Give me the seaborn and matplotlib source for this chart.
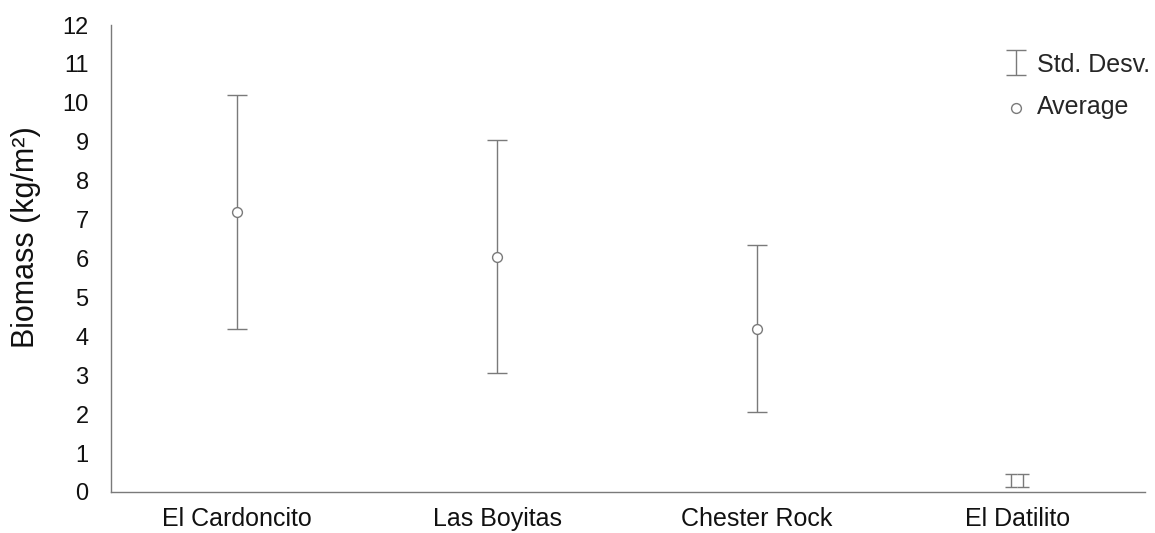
import numpy as np
import pandas as pd
import matplotlib
matplotlib.use("Agg")
import matplotlib.pyplot as plt
import seaborn as sns

# ---- dados ----
sites = ["El Cardoncito", "Las Boyitas", "Chester Rock", "El Datilito"]
media = [7.2, 6.05, 4.2, 0.3]
desvio = [3.0, 3.0, 2.15, 0.17]
y_ticks = list(range(0, 13))

sns.set_theme(style="white")
plt.rcParams['font.family'] = ['Liberation Sans', 'DejaVu Sans']

cinza = "#7a7a7a"

df = pd.DataFrame({"site": sites, "media": media, "desvio": desvio})
df["pos"] = np.arange(len(df))

fig = plt.figure(figsize=(11.55, 5.33), dpi=100)
ax = fig.add_axes([0.096, 0.077, 0.895, 0.876])

# barras de desvio padrao (tres primeiros locais)
principais = df.iloc[:3]
ax.errorbar(principais["pos"], principais["media"], yerr=principais["desvio"],
            fmt="none", ecolor=cinza, elinewidth=1.0, capsize=7, capthick=1.0,
            label="Std. Desv.")

# El Datilito aparece como "II" (duas barrinhas)
ult = df.iloc[3]
for dx in (-0.023, 0.023):
    ax.errorbar([ult["pos"] + dx], [ult["media"]], yerr=[ult["desvio"]],
                fmt="none", ecolor=cinza, elinewidth=1.0, capsize=4, capthick=1.0)

# medias
sns.scatterplot(data=principais, x="pos", y="media", ax=ax, marker="o", s=50,
                facecolor="white", edgecolor=cinza, linewidth=1.0, zorder=3,
                label="Average", legend=False)

ax.set_xlim(-0.485, 3.49)
ax.set_ylim(0, 12)
ax.set_xticks(df["pos"])
ax.set_xticklabels(sites, fontsize=18, color="#111111")
ax.set_yticks(y_ticks)
ax.set_yticklabels([str(t) for t in y_ticks], fontsize=17, color="#111111")
ax.tick_params(axis="x", length=0, pad=11)
ax.tick_params(axis="y", length=0, pad=16)
ax.set_xlabel("")
ax.set_ylabel("Biomass (kg/m²)", fontsize=22, color="#111111")
ax.yaxis.set_label_coords(-0.068, 0.546)

for lado in ["top", "right"]:
    ax.spines[lado].set_visible(False)
for lado in ["left", "bottom"]:
    ax.spines[lado].set_color(cinza)
    ax.spines[lado].set_linewidth(1.0)

handles, labels = ax.get_legend_handles_labels()
ordem = [labels.index("Std. Desv."), labels.index("Average")]
fig.legend([handles[i] for i in ordem], [labels[i] for i in ordem],
           loc="upper left", bbox_to_anchor=(0.86, 0.92), borderaxespad=0,
           frameon=False, fontsize=18, handlelength=1.0, handletextpad=0.35,
           labelspacing=0.75)

fig.savefig("out.png", dpi=100)
